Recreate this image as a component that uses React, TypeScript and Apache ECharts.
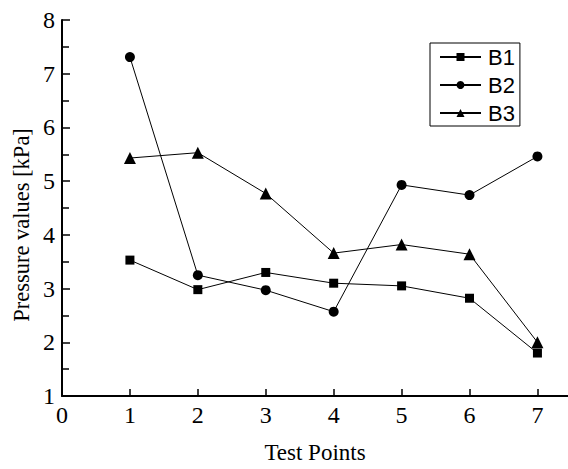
import React, { useEffect, useRef } from "react";
import * as echarts from "echarts";

const testPoints = [1, 2, 3, 4, 5, 6, 7];
const b1 = [3.53, 2.98, 3.3, 3.1, 3.05, 2.82, 1.8];
const b2 = [7.31, 3.25, 2.97, 2.57, 4.93, 4.74, 5.46];
const b3 = [5.43, 5.53, 4.77, 3.66, 3.82, 3.64, 2.0];
const xTickValues = [1, 2, 3, 4, 5, 6, 7];
const xLabelValues = [0, 1, 2, 3, 4, 5, 6, 7];

const serif = "'Liberation Serif', 'Times New Roman', serif";
const sans = "'Liberation Sans', Arial, sans-serif";

export default function App() {
  const ref = useRef<HTMLDivElement>(null);
  useEffect(() => {
    document.body.style.margin = "0";
    const chart = echarts.init(ref.current!, null, { renderer: "svg" });
    const mk = (name: string, data: number[], symbol: string, size: number) => ({
      name,
      type: "line",
      data: testPoints.map((x, i) => [x, data[i]]),
      symbol,
      symbolSize: size,
      itemStyle: { color: "#000" },
      lineStyle: { color: "#000", width: 1 },
    });
    chart.setOption({
      animation: false,
      backgroundColor: "#fff",
      grid: { left: 62, top: 20, width: 506, bottom: 70 },
      xAxis: {
        type: "value",
        min: 0,
        max: 7.45,
        interval: 1,
        name: "Test Points",
        nameLocation: "middle",
        nameGap: 45,
        nameTextStyle: { fontFamily: serif, fontSize: 23, color: "#000" },
        axisLine: { lineStyle: { color: "#000", width: 2 } },
        axisTick: { inside: true, length: 7, lineStyle: { color: "#000", width: 1.5 }, customValues: xTickValues },
        axisLabel: { fontFamily: serif, fontSize: 24, color: "#000", margin: 7, customValues: xLabelValues },
        splitLine: { show: false },
      },
      yAxis: {
        type: "value",
        min: 1,
        max: 8,
        interval: 1,
        axisLine: { show: true, lineStyle: { color: "#000", width: 2 } },
        axisTick: { inside: true, length: 8, lineStyle: { color: "#000", width: 1.5 } },
        minorTick: { show: true, splitNumber: 2, length: 7, lineStyle: { color: "#000", width: 1.5 } },
        axisLabel: { fontFamily: serif, fontSize: 24, color: "#000", margin: 7 },
        splitLine: { show: false },
      },
      legend: {
        orient: "vertical",
        left: 430,
        top: 43,
        width: 88,
        borderColor: "#000",
        borderWidth: 1,
        padding: [3, 5, 2, 9],
        itemWidth: 41,
        itemHeight: 10,
        itemGap: 6,
        textStyle: { fontFamily: sans, fontSize: 22, color: "#000", padding: [0, 0, 0, 2] },
        data: ["B1", "B2", "B3"],
      },
      graphic: [
        {
          type: "text",
          x: 21,
          y: 225,
          rotation: Math.PI / 2,
          style: {
            text: "Pressure values [kPa]",
            font: `22.5px ${serif}`,
            fill: "#000",
            textAlign: "center",
            textVerticalAlign: "middle",
          },
        },
      ],
      series: [mk("B1", b1, "rect", 9), mk("B2", b2, "circle", 10), mk("B3", b3, "triangle", 12)],
    });
    return () => chart.dispose();
  }, []);
  return <div ref={ref} style={{ position: "fixed", left: 0, top: 0, width: 568, height: 469 }} />;
}
